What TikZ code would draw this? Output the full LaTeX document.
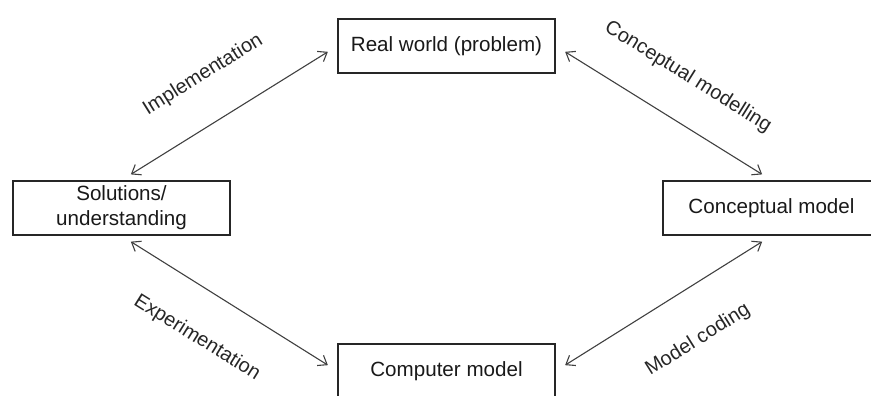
\documentclass[tikz,border=0pt]{standalone}
\usepackage{fontspec}
\setmainfont{Liberation Sans}
\usetikzlibrary{arrows.meta}

\tikzset{
  stage/.style={draw=black!85, line width=1.6pt, minimum width=217pt,
    minimum height=54pt, inner sep=0pt, align=center,
    font=\fontsize{20.6}{25}\selectfont, text=black!90},
  link/.style={draw=black!75, line width=1.1pt,
    {Straight Barb[length=8pt,width=12pt,line width=1.1pt]}-{Straight Barb[length=8pt,width=12pt,line width=1.1pt]},
    shorten <=11pt, shorten >=11pt},
  tag/.style={font=\fontsize{20}{24}\selectfont, text=black!85, inner sep=0pt}
}

\begin{document}
\begin{tikzpicture}[x=1pt,y=-1pt]
  \useasboundingbox (0,0) rectangle (871,396);
  \clip (0,0) rectangle (871,396);

  % the four stages of the cycle
  \node[stage] (real) at (446.5,46)  {Real world (problem)};
  \node[stage] (sol)  at (121.5,208) {Solutions/\\understanding};
  \node[stage] (conc) at (771.5,208) {Conceptual model};
  \node[stage] (comp) at (446.5,371) {Computer model};

  % two-way links between the stages
  \draw[link] (sol.north) -- (real.west);
  \draw[link] (real.east) -- (conc.north);
  \draw[link] (sol.south) -- (comp.west);
  \draw[link] (comp.east) -- (conc.south);

  % activity names along the links
  \node[tag, rotate=32]  (timpl) at (203,75)  {Implementation};
  \node[tag, rotate=-32] (tconc) at (688,77)  {Conceptual modelling};
  \node[tag, rotate=-32] (texp)  at (197,338) {Experimentation};
  \node[tag, rotate=32]  (tcode) at (698,340) {Model coding};
\end{tikzpicture}
\end{document}
